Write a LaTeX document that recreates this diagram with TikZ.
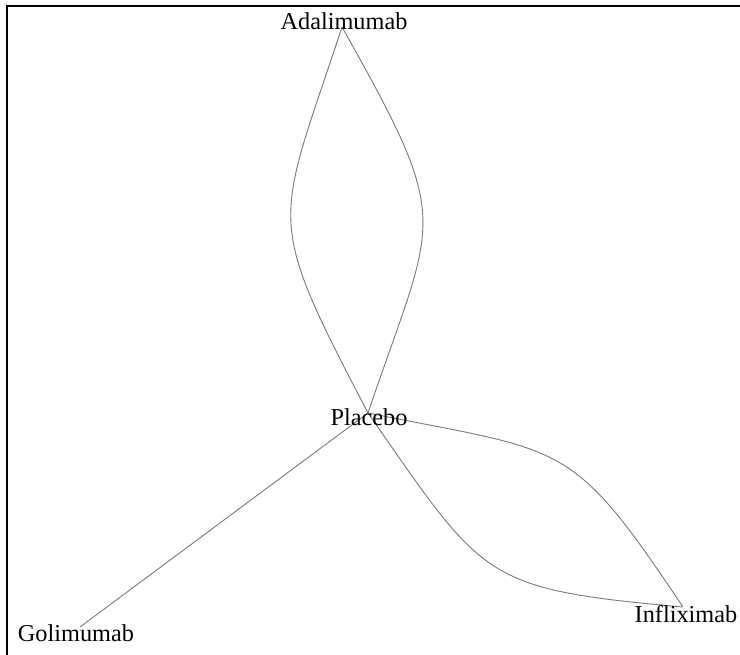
\documentclass[tikz,border=0pt]{standalone}
\usepackage{fontspec}
\setmainfont{Liberation Serif}
\begin{document}
\begin{tikzpicture}[x=1pt,y=-1pt,
  vtx/.style={inner sep=0pt,minimum size=0pt},
  lbl/.style={inner sep=0pt,anchor=base,text=black,
    font=\fontsize{24.3}{29}\selectfont},
  edge/.style={draw={rgb,255:red,120;green,120;blue,120},line width=0.9pt},
  frame/.style={draw=black,line width=2.3pt,line join=miter}]
\useasboundingbox (0,0) rectangle (740,655);

% plot frame (left and top sides)
\draw[frame] (7,655) -- (7,6.3) -- (740,6.3);

% vertices
\node[vtx] (a) at (342,27)  {};
\node[vtx] (p) at (368,413) {};
\node[vtx] (i) at (683,607) {};
\node[vtx] (g) at (80,627)  {};

% edges
\draw[edge] (a) .. controls (276,228) and (263,212) .. (p);
\draw[edge] (a) .. controls (455,228) and (436,212) .. (p);
\draw[edge] (p) .. controls (567,453) and (570,438) .. (i);
\draw[edge] (p) .. controls (484,579) and (481,589) .. (i);
\draw[edge] (p) -- (g);

% vertex labels
\node[lbl] (alab) at (344,30)  {Adalimumab};
\node[lbl] (plab) at (369,426) {Placebo};
\node[lbl] (ilab) at (686,622) {Infliximab};
\node[lbl] (glab) at (76,641.5) {Golimumab};
\end{tikzpicture}
\end{document}
